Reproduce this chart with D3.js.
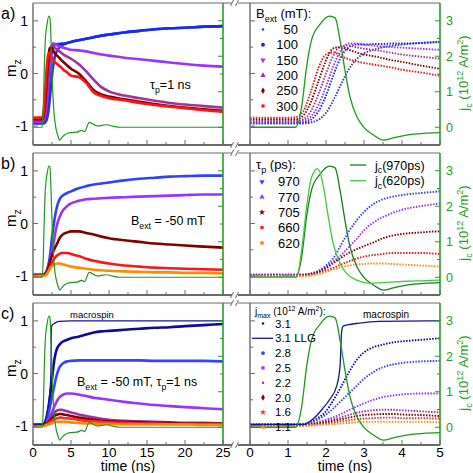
<!DOCTYPE html>
<html>
<head>
<meta charset="utf-8">
<script src="https://cdn.jsdelivr.net/npm/d3@7"></script>
<style>
  body { margin: 0; background: #fff; }
  svg { display: block; }
  text { font-family: Arial, "Liberation Sans", sans-serif; }
</style>
</head>
<body>
<script>
// time grid (ns) for every m_z curve
const tGrid = [0, 1.0, 1.2, 1.4, 1.6, 1.8, 2.0, 2.2, 2.4, 2.6, 2.8, 3.0, 3.25, 3.5, 3.75, 4.0, 4.5, 5.0, 6, 7, 8, 9, 10, 12, 14, 16, 18, 20, 22.5, 25];

// a) B_ext series (mT)
const bextLabels = ["50", "100", "150", "200", "250", "300"];
const mzB50  = [-0.95,-0.95,-0.95,-0.95,-0.93,-0.88,-0.75,-0.5,-0.2,0.08,0.27,0.38,0.45,0.5,0.53,0.55,0.58,0.6,0.63,0.66,0.69,0.72,0.74,0.78,0.81,0.84,0.86,0.87,0.89,0.9];
const mzB100 = [-0.94,-0.94,-0.94,-0.93,-0.88,-0.72,-0.42,-0.02,0.32,0.5,0.55,0.55,0.56,0.56,0.57,0.57,0.58,0.6,0.63,0.66,0.69,0.72,0.74,0.78,0.81,0.84,0.86,0.87,0.89,0.9];
const mzB150 = [-0.92,-0.92,-0.92,-0.9,-0.82,-0.6,-0.25,0.15,0.45,0.57,0.57,0.55,0.53,0.51,0.5,0.49,0.47,0.45,0.44,0.42,0.39,0.36,0.34,0.3,0.27,0.24,0.21,0.18,0.15,0.13];
const mzB200 = [-0.9,-0.9,-0.9,-0.87,-0.72,-0.4,0.0,0.35,0.52,0.53,0.5,0.47,0.45,0.42,0.39,0.36,0.32,0.28,0.18,0.04,-0.12,-0.26,-0.34,-0.42,-0.47,-0.52,-0.56,-0.59,-0.62,-0.65];
const mzB250 = [-0.87,-0.87,-0.87,-0.8,-0.55,-0.15,0.25,0.48,0.5,0.45,0.4,0.36,0.33,0.29,0.25,0.22,0.15,0.09,0.0,-0.15,-0.32,-0.4,-0.44,-0.49,-0.54,-0.58,-0.62,-0.65,-0.68,-0.71];
const mzB300 = [-0.84,-0.84,-0.83,-0.72,-0.35,0.1,0.36,0.4,0.33,0.27,0.23,0.2,0.17,0.14,0.11,0.07,0.02,-0.04,-0.07,-0.18,-0.36,-0.43,-0.47,-0.51,-0.56,-0.6,-0.63,-0.66,-0.7,-0.73];

// b) pulse length series (ps)
const tauLabels = ["970", "770", "705", "660", "620"];
const mzT970 = [-0.97,-0.97,-0.97,-0.97,-0.95,-0.9,-0.8,-0.65,-0.4,-0.15,0.05,0.22,0.37,0.46,0.51,0.54,0.58,0.61,0.67,0.71,0.74,0.76,0.78,0.82,0.85,0.87,0.89,0.9,0.91,0.91];
const mzT770 = [-0.98,-0.98,-0.98,-0.98,-0.96,-0.92,-0.83,-0.72,-0.6,-0.45,-0.3,-0.13,0.02,0.12,0.2,0.26,0.33,0.38,0.43,0.46,0.47,0.48,0.49,0.5,0.51,0.52,0.53,0.54,0.55,0.55];
const mzT705 = [-0.99,-0.99,-0.99,-0.98,-0.96,-0.92,-0.85,-0.75,-0.65,-0.56,-0.49,-0.43,-0.36,-0.28,-0.23,-0.2,-0.17,-0.15,-0.15,-0.18,-0.21,-0.25,-0.28,-0.32,-0.35,-0.38,-0.4,-0.42,-0.44,-0.46];
const mzT660 = [-1.0,-1.0,-1.0,-0.99,-0.98,-0.95,-0.9,-0.84,-0.78,-0.72,-0.67,-0.63,-0.6,-0.58,-0.56,-0.56,-0.56,-0.58,-0.62,-0.67,-0.71,-0.74,-0.76,-0.8,-0.82,-0.84,-0.85,-0.86,-0.87,-0.88];
const mzT620 = [-1.0,-1.0,-1.0,-1.0,-0.99,-0.96,-0.92,-0.87,-0.83,-0.8,-0.78,-0.77,-0.76,-0.76,-0.77,-0.78,-0.8,-0.82,-0.84,-0.86,-0.88,-0.89,-0.9,-0.91,-0.92,-0.93,-0.93,-0.94,-0.94,-0.95];

// c) j_max series (10^12 A/m^2)
const jmaxLabels = ["3.1", "3.1 LLG", "2.8", "2.5", "2.2", "2.0", "1.6", "1.1"];
const mzJ31 = [-0.97,-0.97,-0.97,-0.96,-0.92,-0.84,-0.72,-0.5,-0.25,0.02,0.25,0.4,0.5,0.55,0.59,0.61,0.64,0.67,0.7,0.74,0.78,0.8,0.81,0.83,0.85,0.87,0.88,0.9,0.92,0.94];
const mzJ28 = [-0.97,-0.97,-0.97,-0.96,-0.93,-0.87,-0.78,-0.66,-0.52,-0.38,-0.24,-0.1,0.03,0.12,0.17,0.2,0.23,0.24,0.25,0.25,0.25,0.25,0.25,0.25,0.25,0.24,0.24,0.24,0.24,0.23];
const mzJ25 = [-0.98,-0.98,-0.98,-0.97,-0.95,-0.92,-0.88,-0.83,-0.77,-0.7,-0.63,-0.57,-0.5,-0.45,-0.42,-0.4,-0.38,-0.38,-0.4,-0.43,-0.46,-0.48,-0.5,-0.54,-0.57,-0.6,-0.62,-0.64,-0.66,-0.68];
const mzJ22 = [-0.97,-0.97,-0.97,-0.97,-0.96,-0.94,-0.91,-0.87,-0.83,-0.79,-0.75,-0.72,-0.7,-0.69,-0.69,-0.7,-0.72,-0.74,-0.78,-0.81,-0.84,-0.86,-0.88,-0.9,-0.91,-0.92,-0.93,-0.94,-0.94,-0.95];
const mzJ20 = [-0.98,-0.98,-0.98,-0.98,-0.97,-0.95,-0.93,-0.9,-0.87,-0.84,-0.81,-0.79,-0.78,-0.77,-0.77,-0.78,-0.79,-0.81,-0.84,-0.86,-0.88,-0.9,-0.91,-0.92,-0.93,-0.94,-0.94,-0.95,-0.95,-0.95];
const mzJ16 = [-0.99,-0.99,-0.99,-0.99,-0.98,-0.97,-0.95,-0.93,-0.91,-0.89,-0.87,-0.86,-0.85,-0.84,-0.84,-0.85,-0.85,-0.86,-0.88,-0.9,-0.91,-0.92,-0.93,-0.94,-0.95,-0.95,-0.96,-0.96,-0.96,-0.96];
const mzJ11 = [-1.0,-1.0,-1.0,-1.0,-0.99,-0.98,-0.97,-0.96,-0.95,-0.94,-0.93,-0.92,-0.92,-0.92,-0.92,-0.92,-0.92,-0.93,-0.94,-0.95,-0.95,-0.96,-0.96,-0.97,-0.97,-0.97,-0.97,-0.97,-0.98,-0.98];

// macrospin (LLG) curve
const llgT = [0, 1.4, 1.65, 1.9, 2.1, 2.28, 2.37, 2.41, 2.45, 2.6, 2.8, 3.4, 5, 10, 25];
const llgMz = [-0.97,-0.97,-0.87,-0.68,-0.49,-0.24,0.14,0.78,0.9,0.93,0.95,0.99,1.0,1.0,1.0];

// current pulses j_c (10^12 A/m^2)
const pulseT = [0, 1.2, 1.36, 1.49, 1.62, 1.84, 2.1, 2.24, 2.37, 2.5, 2.63, 2.81, 2.98, 3.25, 3.51, 3.77, 4.12, 4.56, 5.0, 5.75, 6.4, 6.8, 7.4, 8.4, 9.7, 10.5, 11.5, 25];
const pulse970 = [0, 0, 0.58, 1.71, 2.46, 2.9, 3.13, 3.08, 2.45, 1.6, 0.86, 0.3, 0.02, -0.22, -0.36, -0.3, -0.22, -0.17, -0.15, -0.14, -0.09, -0.12, 0.14, 0.04, 0.07, 0.03, 0, 0];
const pulse620T = [0, 1.22, 1.38, 1.49, 1.58, 1.71, 1.77, 1.84, 1.95, 2.06, 2.19, 2.37, 2.54, 2.81, 3.16, 3.5, 4.0, 4.5, 5.0];
const pulse620 = [0, 0, 0.95, 1.98, 2.64, 3.01, 3.06, 2.97, 2.45, 1.7, 0.95, 0.39, 0.11, -0.08, -0.17, -0.15, -0.12, -0.1, -0.08];

// ---------------------------------------------------------------
const W = 473, H = 473;
const GREY = "#6a6a6a", GREEN = "#22a022";
const svg = d3.select("body").append("svg")
  .attr("width", W).attr("height", H)
  .style("background", "#fff");
const defs = svg.append("defs");

const xL = d3.scaleLinear().domain([0, 25]).range([33, 223]);
const xR = d3.scaleLinear().domain([0, 5]).range([250, 440]);
const rowTops = [3, 153, 303];
const panelH = 142;

// text with sub/superscripts: parts = ["txt", ["sub","sub"], ["12","sup"]]
function richText(parent, x, y, parts, size, opts = {}) {
  const t = parent.append("text")
    .attr("x", x).attr("y", y)
    .attr("font-size", size)
    .attr("text-anchor", opts.anchor || "start")
    .attr("fill", opts.color || "#000");
  if (opts.rotate) t.attr("transform", `rotate(${opts.rotate},${x},${y})`);
  let shift = 0;
  parts.forEach(p => {
    const s = typeof p === "string" ? p : p[0];
    const k = typeof p === "string" ? null : p[1];
    const target = k === "sub" ? size * 0.3 : k === "sup" ? -size * 0.4 : 0;
    t.append("tspan").attr("dy", target - shift)
      .attr("font-size", k ? size * 0.7 : size).text(s);
    shift = target;
  });
  return t;
}

function marker(g, x, y, kind, color) {
  const types = {
    dot: [d3.symbolCircle, 5, 0], circle: [d3.symbolCircle, 12, 0],
    tdown: [d3.symbolTriangle, 12, 180], tup: [d3.symbolTriangle, 12, 0],
    diamond: [d3.symbolDiamond, 12, 0], square: [d3.symbolSquare, 10, 0],
    star: [d3.symbolStar, 12, 0]
  };
  const [type, size, rot] = types[kind];
  g.append("path").attr("d", d3.symbol().type(type).size(size)())
    .attr("transform", `translate(${x},${y}) rotate(${rot})`)
    .attr("fill", color);
}

function ticks(g, vals, scale, orient, pos, len, color) {
  g.selectAll(null).data(vals).join("line")
    .attr("x1", d => orient === "v" ? pos : scale(d))
    .attr("x2", d => orient === "v" ? pos + len : scale(d))
    .attr("y1", d => orient === "v" ? scale(d) : pos)
    .attr("y2", d => orient === "v" ? scale(d) : pos + len)
    .attr("stroke", color).attr("stroke-width", 1);
}

const rows = [
  {
    label: "a)",
    series: [
      { data: mzB50,  color: "#3535c8", sym: "dot" },
      { data: mzB100, color: "#1428ff", sym: "circle" },
      { data: mzB150, color: "#9933ff", sym: "tdown" },
      { data: mzB200, color: "#a033a0", sym: "tup" },
      { data: mzB250, color: "#800000", sym: "diamond" },
      { data: mzB300, color: "#ff1414", sym: "square" }
    ],
    labels: bextLabels,
    pulses: [{ t: pulseT, v: pulse970, color: "#1c9a1c" }]
  },
  {
    label: "b)",
    series: [
      { data: mzT970, color: "#3040ff", sym: "tdown" },
      { data: mzT770, color: "#9933ff", sym: "tup" },
      { data: mzT705, color: "#800000", sym: "star" },
      { data: mzT660, color: "#ff1414", sym: "square" },
      { data: mzT620, color: "#ff8a00", sym: "circle" }
    ],
    labels: tauLabels,
    pulses: [{ t: pulseT, v: pulse970, color: "#1a7f1a" },
             { t: pulse620T, v: pulse620, color: "#3ccc3c" }]
  },
  {
    label: "c)",
    series: [
      { data: mzJ31, color: "#0c0c9c", sym: "dot" },
      null,
      { data: mzJ28, color: "#3344ff", sym: "circle" },
      { data: mzJ25, color: "#9933ff", sym: "square" },
      { data: mzJ22, color: "#a033a0", sym: "dot" },
      { data: mzJ20, color: "#800000", sym: "diamond" },
      { data: mzJ16, color: "#ff2a2a", sym: "star" },
      { data: mzJ11, color: "#ff8a00", sym: "tup" }
    ],
    labels: jmaxLabels,
    pulses: [{ t: pulseT, v: pulse970, color: "#1c9a1c" }]
  }
];

rows.forEach((row, r) => {
  const top = rowTops[r], bot = top + panelH;
  const yM = d3.scaleLinear().domain([-1.36, 1.34]).range([bot, top]);
  const yJ = d3.scaleLinear().domain([-0.5, 3.5]).range([bot, top]);

  defs.append("clipPath").attr("id", `cl${r}`).append("rect")
    .attr("x", 33).attr("y", top).attr("width", 190).attr("height", panelH);
  defs.append("clipPath").attr("id", `cr${r}`).append("rect")
    .attr("x", 250).attr("y", top).attr("width", 190).attr("height", panelH);

  const gL = svg.append("g").attr("clip-path", `url(#cl${r})`);
  const gR = svg.append("g").attr("clip-path", `url(#cr${r})`);

  const mzLine = x => d3.line().x((d, i) => x(tGrid[i])).y(d => yM(d)).curve(d3.curveMonotoneX);
  const pairLine = (x, ys) => d3.line().x(d => x(d[0])).y(d => ys(d[1])).curve(d3.curveMonotoneX);

  // m_z curves
  row.series.forEach(s => {
    if (!s) return;
    gL.append("path").datum(s.data).attr("d", mzLine(xL))
      .attr("fill", "none").attr("stroke", s.color).attr("stroke-width", 2.6);
    gR.append("path").datum(s.data).attr("d", mzLine(xR))
      .attr("fill", "none").attr("stroke", s.color).attr("stroke-width", 1.9)
      .attr("stroke-dasharray", "1.5,1.4");
  });

  // macrospin
  if (r === 2) {
    const llg = d3.zip(llgT, llgMz);
    [[gL, xL], [gR, xR]].forEach(([g, x]) => {
      g.append("path").datum(llg).attr("d", pairLine(x, yM))
        .attr("fill", "none").attr("stroke", "#1414a0").attr("stroke-width", 1.3);
    });
  }

  // current pulses
  row.pulses.forEach((p, k) => {
    const pts = d3.zip(p.t, p.v);
    if (k === 0) {
      gL.append("path").datum(pts).attr("d", pairLine(xL, yJ))
        .attr("fill", "none").attr("stroke", "#1c9a1c").attr("stroke-width", 1.2);
    }
    gR.append("path").datum(pts).attr("d", pairLine(xR, yJ))
      .attr("fill", "none").attr("stroke", p.color).attr("stroke-width", 1.3);
  });

  // frames
  const fr = svg.append("g");
  const ln = (x1, y1, x2, y2, c, w) => fr.append("line")
    .attr("x1", x1).attr("y1", y1).attr("x2", x2).attr("y2", y2)
    .attr("stroke", c).attr("stroke-width", w);
  ln(33, top, 232, top, GREY, 1);
  ln(238, top, 440, top, GREY, 1);
  ln(33, bot, 232, bot, GREY, 1.8);
  ln(238, bot, 440, bot, GREY, 1.8);
  ln(33, top, 33, bot, GREY, 1.4);
  ln(250, top, 250, bot, GREY, 1.4);
  ln(223, top, 223, bot, GREEN, 1.6);
  ln(440, top, 440, bot, GREEN, 1.6);
  // break marks
  [top, bot].forEach(y => {
    ln(230.5, y + 3, 233.5, y - 3, GREY, 1);
    ln(235.5, y + 3, 238.5, y - 3, GREY, 1);
  });

  // ticks
  const mMaj = [-1, 0, 1], mMin = [-0.5, 0.5];
  ticks(fr, mMaj, yM, "v", 33, 5, GREY);
  ticks(fr, mMin, yM, "v", 33, 3, GREY);
  ticks(fr, mMaj, yM, "v", 250, 5, GREY);
  ticks(fr, mMin, yM, "v", 250, 3, GREY);
  const jMaj = [0, 1, 2, 3], jMin = [0.5, 1.5, 2.5];
  ticks(fr, jMaj, yJ, "v", 223, -5, GREEN);
  ticks(fr, jMin, yJ, "v", 223, -3, GREEN);
  ticks(fr, jMaj, yJ, "v", 440, -5, GREEN);
  ticks(fr, jMin, yJ, "v", 440, -3, GREEN);
  ticks(fr, [0, 5, 10, 15, 20, 25], xL, "h", bot, -5, GREY);
  ticks(fr, [2.5, 7.5, 12.5, 17.5, 22.5], xL, "h", bot, -3, GREY);
  ticks(fr, [0, 1, 2, 3, 4, 5], xR, "h", bot, -5, GREY);
  ticks(fr, [0.5, 1.5, 2.5, 3.5, 4.5], xR, "h", bot, -3, GREY);

  // tick labels
  fr.selectAll(null).data(mMaj).join("text")
    .attr("x", 28).attr("y", d => yM(d)).attr("dy", "0.36em")
    .attr("text-anchor", "end").attr("font-size", 14).text(d => String(d));
  fr.selectAll(null).data(jMaj).join("text")
    .attr("x", 446).attr("y", d => yJ(d)).attr("dy", "0.36em")
    .attr("font-size", 12.5).attr("fill", GREEN).text(d => String(d));

  // axis titles
  richText(fr, 16, (top + bot) / 2 - 6, ["m", ["z", "sub"]], 15, { anchor: "middle", rotate: -90 });
  richText(fr, 468, (top + bot) / 2 - 1,
    ["j", ["c", "sub"], " (10", ["12", "sup"], " A/m", ["2", "sup"], ")"], 13,
    { anchor: "middle", rotate: -90, color: GREEN });

  // panel label
  fr.append("text").attr("x", 1).attr("y", top + 16).attr("font-size", 16).text(row.label);

  // legends
  const lg = svg.append("g");
  if (r === 0) {
    richText(lg, 256, top + 15, ["B", ["ext", "sub"], " (mT):"], 13);
    row.series.forEach((s, i) => {
      const y = top + 26.5 + i * 15.3;
      marker(lg, 263, y, s.sym, s.color);
      lg.append("text").attr("x", 298).attr("y", y).attr("dy", "0.36em")
        .attr("text-anchor", "end").attr("font-size", 13).text(row.labels[i]);
    });
    richText(lg, 150, top + 86, ["τ", ["p", "sub"], "=1 ns"], 12.5);
  } else if (r === 1) {
    richText(lg, 256, top + 16, ["τ", ["p", "sub"], " (ps):"], 13);
    row.series.forEach((s, i) => {
      const y = top + 28.7 + i * 15.3;
      marker(lg, 262, y, s.sym, s.color);
      lg.append("text").attr("x", 278).attr("y", y).attr("dy", "0.36em")
        .attr("font-size", 13).text(row.labels[i]);
    });
    row.pulses.forEach((p, i) => {
      const y = top + 12 + i * 15.7;
      lg.append("line").attr("x1", 350).attr("x2", 366).attr("y1", y).attr("y2", y)
        .attr("stroke", p.color).attr("stroke-width", 1.3);
      richText(lg, 375, y + 4.5, ["j", ["c", "sub"], i === 0 ? "(970ps)" : "(620ps)"], 12.5);
    });
    richText(lg, 131, top + 72, ["B", ["ext", "sub"], " = -50 mT"], 12.5);
  } else {
    richText(lg, 255, top + 11.5, ["j", ["max", "sub"], " (10", ["12", "sup"], " A/m", ["2", "sup"], "):"], 10);
    row.labels.forEach((lab, i) => {
      const y = top + 20.5 + i * 14.8;
      const s = row.series[i];
      if (s) marker(lg, 263, y, s.sym, s.color);
      else lg.append("line").attr("x1", 252).attr("x2", 273).attr("y1", y).attr("y2", y)
        .attr("stroke", "#1414a0").attr("stroke-width", 1.3);
      lg.append("text").attr("x", 275).attr("y", y).attr("dy", "0.36em")
        .attr("font-size", 11.5).text(lab);
    });
    richText(lg, 77, top + 83, ["B", ["ext", "sub"], " = -50 mT, τ", ["p", "sub"], "=1 ns"], 12.5);
    lg.append("text").attr("x", 70).attr("y", top + 15).attr("font-size", 9.5).text("macrospin");
    lg.append("text").attr("x", 363).attr("y", top + 15).attr("font-size", 10).text("macrospin");

    // x tick labels and titles
    lg.selectAll(null).data([0, 5, 10, 15, 20, 25]).join("text")
      .attr("x", d => xL(d)).attr("y", bot + 11.5).attr("text-anchor", "middle")
      .attr("font-size", 13.5).text(d => String(d));
    lg.selectAll(null).data([0, 1, 2, 3, 4, 5]).join("text")
      .attr("x", d => xR(d)).attr("y", bot + 11.5).attr("text-anchor", "middle")
      .attr("font-size", 13.5).text(d => String(d));
    lg.append("text").attr("x", 128).attr("y", bot + 26).attr("text-anchor", "middle")
      .attr("font-size", 14).text("time (ns)");
    lg.append("text").attr("x", 345).attr("y", bot + 26).attr("text-anchor", "middle")
      .attr("font-size", 14).text("time (ns)");
  }
});
</script>
</body>
</html>
